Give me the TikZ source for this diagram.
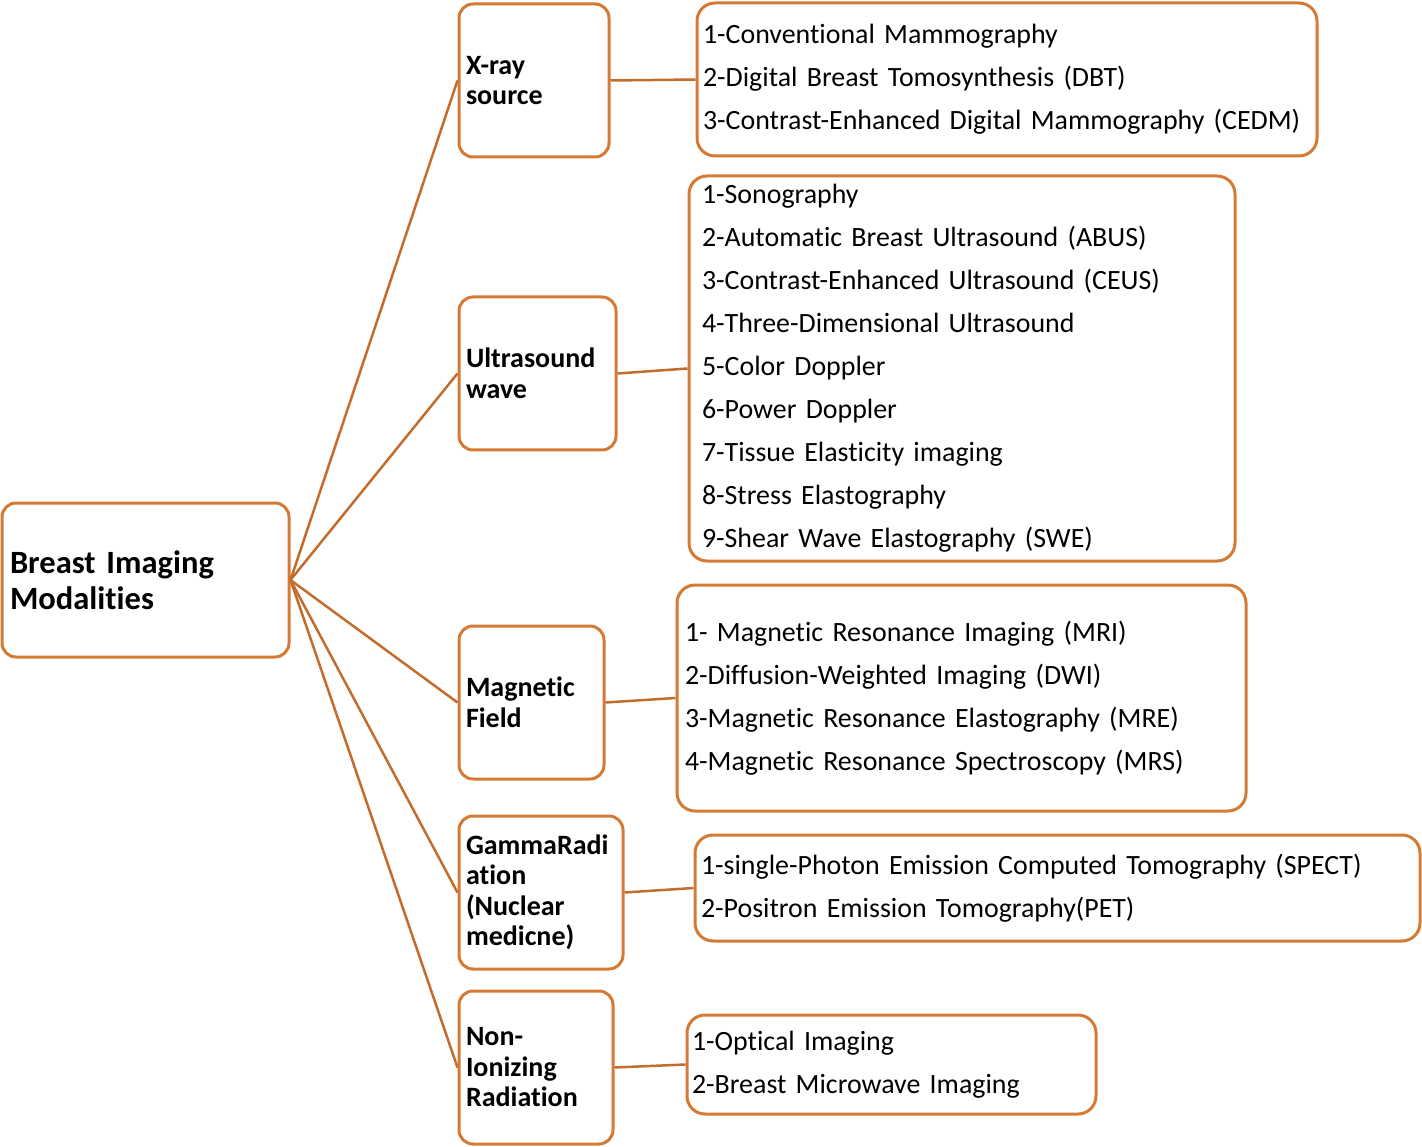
\documentclass[tikz,border=0pt]{standalone}
\usepackage{fontspec}
\setmainfont{Carlito}[Ligatures=NoCommon]
\usetikzlibrary{positioning}
\definecolor{boxorange}{HTML}{D47A35}
\definecolor{linkbrown}{HTML}{C46C2C}
\tikzset{
  rootbox/.style={draw=boxorange, line width=3pt, rounded corners=14pt, align=left, inner ysep=0pt, font=\fontsize{32.5}{36}\selectfont\bfseries},
  modbox/.style={draw=boxorange, line width=3pt, rounded corners=14pt, align=left, inner ysep=0pt, font=\fontsize{28}{30.5}\selectfont\bfseries},
  listbox/.style={draw=boxorange, line width=3pt, rounded corners=18pt, align=left, inner ysep=0pt, font=\fontsize{27.9}{43}\selectfont},
  link/.style={linkbrown, line width=2.5pt}
}

\begin{document}
\begin{tikzpicture}[x=1pt, y=-1pt]
  \useasboundingbox (0,0) rectangle (1422,1147);
  % root
  \node[rootbox, minimum width=287pt, minimum height=154pt, inner xsep=8pt, text width=271pt] (root) at (145.5,580) {Breast Imaging\\Modalities};
  % modalities
  \node[modbox, minimum width=150pt, minimum height=153pt, inner xsep=7pt, text width=136pt] (xray) at (534,80.5) {X-ray\\source};
  \node[modbox, minimum width=157pt, minimum height=153pt, inner xsep=7pt, text width=143pt] (us) at (537.5,373.5) {Ultrasound\\wave};
  \node[modbox, minimum width=145pt, minimum height=153pt, inner xsep=7pt, text width=131pt] (mag) at (531.5,702.5) {Magnetic\\Field};
  \node[modbox, minimum width=164pt, minimum height=153pt, inner xsep=7pt, text width=150pt] (gamma) at (541,892.5) {GammaRadi\\ation\\(Nuclear\\medicne)};
  \node[modbox, minimum width=154pt, minimum height=153pt, inner xsep=7pt, text width=140pt] (nonion) at (536,1067.5) {Non-\\Ionizing\\Radiation};
  % lists
  \node[listbox, minimum width=620pt, minimum height=153pt, inner xsep=6pt, text width=608pt] (xraylist) at (1007,79.5) {1-Conventional Mammography\\2-Digital Breast Tomosynthesis (DBT)\\3-Contrast-Enhanced Digital Mammography (CEDM)};
  \node[listbox, minimum width=546pt, minimum height=385pt, inner xsep=13pt, text width=520pt] (uslist) at (962,368.5) {1-Sonography\\2-Automatic Breast Ultrasound (ABUS)\\3-Contrast-Enhanced Ultrasound (CEUS)\\4-Three-Dimensional Ultrasound\\5-Color Doppler\\6-Power Doppler\\7-Tissue Elasticity imaging\\8-Stress Elastography\\9-Shear Wave Elastography (SWE)};
  \node[listbox, minimum width=569pt, minimum height=226pt, inner xsep=8pt, text width=553pt] (maglist) at (961.5,698) {1- Magnetic Resonance Imaging (MRI)\\2-Diffusion-Weighted Imaging (DWI)\\3-Magnetic Resonance Elastography (MRE)\\4-Magnetic Resonance Spectroscopy (MRS)};
  \node[listbox, minimum width=725pt, minimum height=106pt, inner xsep=6pt, text width=713pt] (gammalist) at (1057.5,888) {1-single-Photon Emission Computed Tomography (SPECT)\\2-Positron Emission Tomography(PET)};
  \node[listbox, minimum width=409pt, minimum height=99pt, inner xsep=5pt, text width=399pt] (nonionlist) at (891.5,1064.5) {1-Optical Imaging\\2-Breast Microwave Imaging};
  % connectors
  \foreach \m in {xray,us,mag,gamma,nonion}{
    \draw[link] (root.east) -- (\m.west);
    \draw[link] (\m.east) -- (\m list.west);
  }
\end{tikzpicture}
\end{document}
